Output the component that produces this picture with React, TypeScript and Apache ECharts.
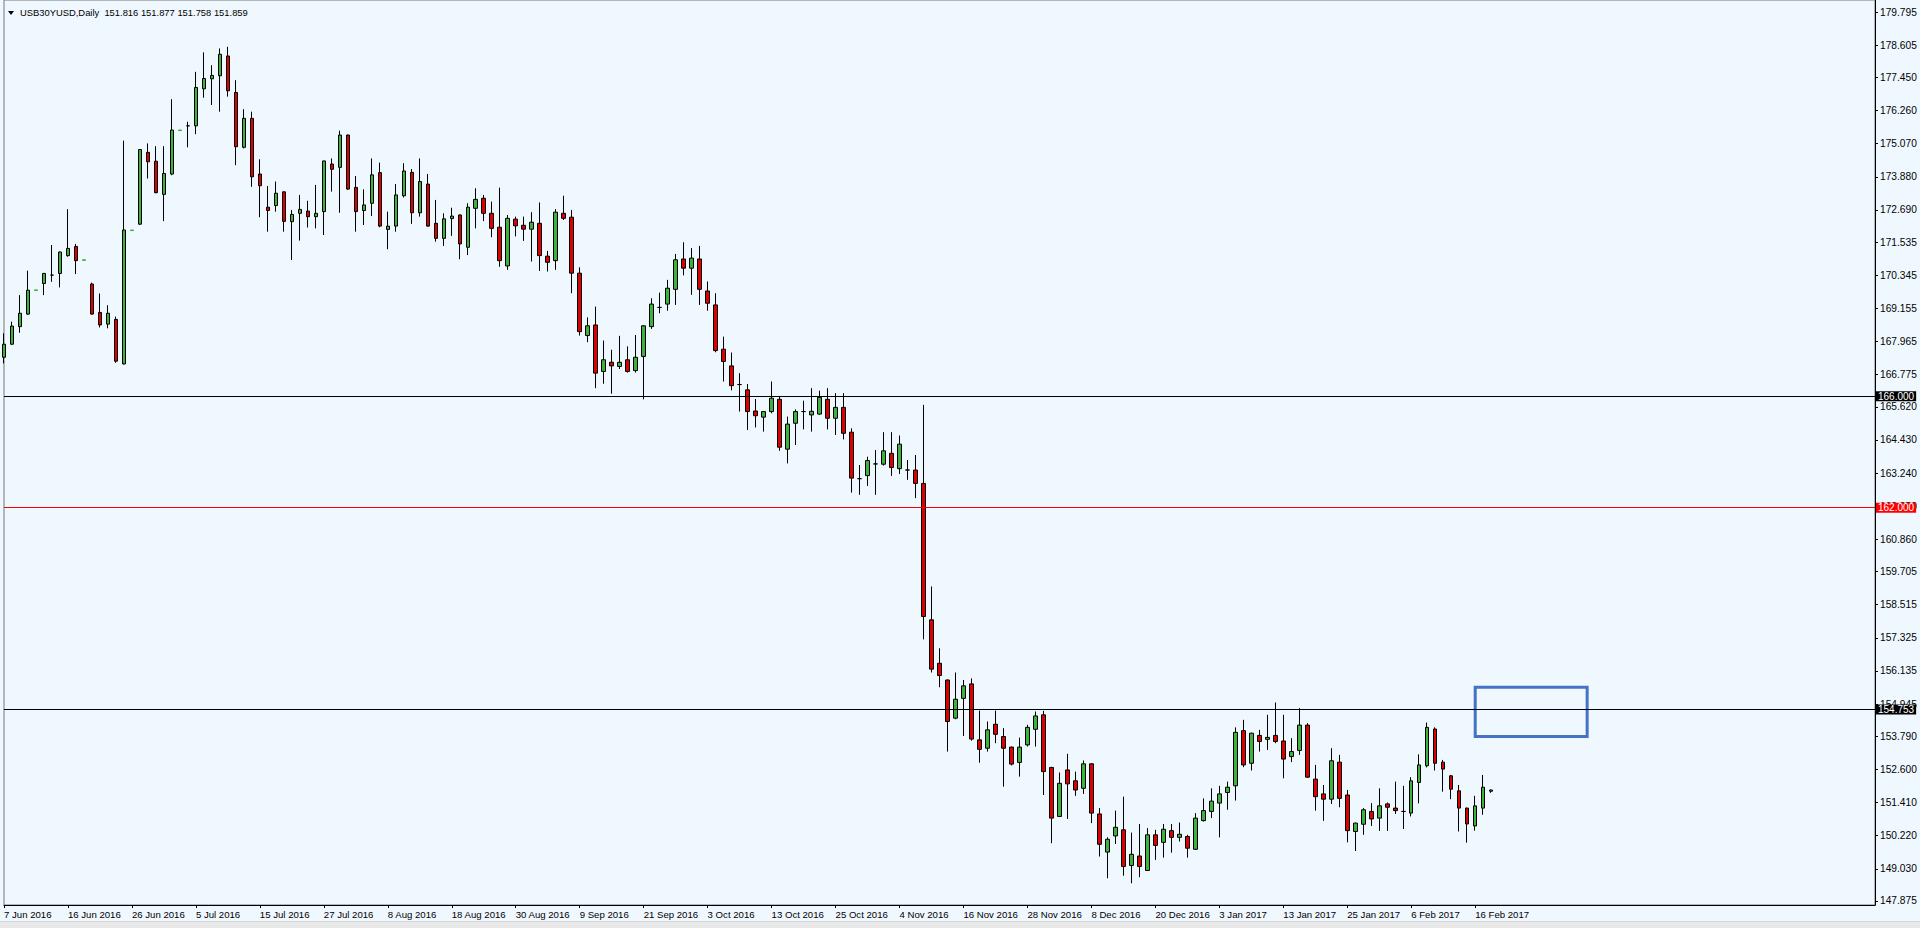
import { useEffect, useRef } from "react";
import * as echarts from "echarts";

const symbolName = "USB30YUSD";
const timeframe = "Daily";

const opens = [
  167.40,167.87,168.50,168.95,169.80,170.05,170.35,170.41,171.05,171.38,
  170.88,170.03,169.01,168.59,168.76,167.16,171.95,172.18,174.76,174.44,
  173.25,173.98,175.54,175.71,175.71,177.04,177.40,177.51,178.22,176.91,
  174.94,175.98,173.98,172.79,172.85,173.34,172.27,172.57,172.65,172.45,
  172.63,174.34,174.22,175.38,173.50,172.67,172.93,174.03,171.99,172.11,
  173.20,174.04,172.59,173.62,172.21,171.67,172.38,172.51,171.35,172.75,
  173.11,172.57,172.07,170.68,172.36,172.14,172.00,172.21,171.03,170.87,
  172.57,172.43,170.42,168.18,168.56,166.89,167.22,167.07,167.31,166.92,
  167.43,168.50,169.19,169.31,169.84,170.93,170.60,170.93,169.78,169.28,
  167.69,167.09,166.42,166.23,165.47,165.25,165.45,165.89,164.10,165.03,
  165.45,165.33,165.36,165.89,165.21,165.60,164.71,163.04,163.15,163.57,
  163.56,163.95,163.40,163.35,163.35,162.87,157.97,156.41,155.81,154.44,
  155.15,155.67,153.66,153.36,154.22,153.78,153.40,152.85,153.48,154.04,
  154.56,152.67,150.91,152.58,152.19,151.92,152.80,151.00,149.63,150.21,
  150.43,149.15,149.49,148.97,150.25,149.98,150.40,150.16,150.19,149.73,
  150.76,151.09,151.39,151.77,152.01,153.99,152.82,153.82,153.68,153.82,
  153.62,153.06,153.28,154.19,152.25,151.72,151.53,152.86,151.68,150.37,
  150.63,151.09,150.85,151.36,151.21,151.09,151.03,152.13,152.73,154.05,
  152.86,152.37,151.83,151.21,150.57,151.21,151.816,
];

const highs = [
  168.26,168.68,169.63,170.51,169.83,170.43,171.43,171.20,172.72,171.47,
  170.91,170.08,169.69,169.27,168.86,175.18,171.98,174.87,175.08,174.98,
  174.98,176.67,175.57,175.86,177.65,178.35,177.89,178.49,178.55,177.35,
  176.31,176.22,174.51,173.55,173.71,173.36,172.69,173.23,173.02,173.59,
  174.46,174.54,175.54,175.40,173.91,173.43,174.54,174.39,172.63,173.62,
  174.37,174.16,174.54,173.98,173.05,172.57,172.77,172.53,172.93,173.47,
  173.23,172.99,173.49,172.51,172.45,172.45,172.61,172.96,171.22,172.72,
  173.20,172.69,170.63,168.83,169.22,168.00,167.67,168.17,167.79,168.20,
  168.55,169.52,169.72,170.18,171.11,171.53,171.32,171.40,170.12,169.70,
  168.14,167.57,166.83,166.44,165.90,165.47,166.53,165.99,165.27,165.53,
  165.84,166.29,166.20,166.29,166.11,166.11,164.85,163.53,163.83,164.07,
  164.71,164.71,164.59,163.71,163.89,165.69,159.17,156.95,155.83,156.08,
  155.81,155.87,154.71,154.32,154.71,154.08,153.42,153.74,154.20,154.68,
  154.70,152.69,152.49,153.16,152.52,152.92,152.82,151.21,150.16,151.12,
  151.62,150.33,150.64,150.49,150.43,150.64,150.64,150.69,150.25,151.03,
  151.56,151.92,152.01,152.16,154.11,154.38,153.92,154.02,154.56,155.00,
  154.56,153.72,154.80,154.26,152.76,152.04,153.36,153.12,151.86,150.69,
  151.21,151.39,151.92,151.41,152.16,152.01,152.32,153.14,154.28,154.11,
  152.94,152.40,152.04,151.23,151.65,152.40,151.877,
];

const lows = [
  167.18,167.84,168.28,168.92,169.79,169.63,170.11,169.91,171.01,170.39,
  170.87,168.93,168.47,168.44,167.20,167.14,171.94,172.15,173.82,173.29,
  172.29,173.94,175.53,174.94,175.41,176.72,176.46,176.22,176.76,174.30,
  174.90,173.52,172.43,171.91,172.63,171.91,170.89,171.59,172.06,172.03,
  171.79,173.35,172.59,173.41,171.91,172.15,172.47,172.07,171.28,171.91,
  173.14,172.19,172.45,172.09,171.55,171.40,171.76,170.92,171.07,172.03,
  172.29,171.71,170.65,170.54,171.74,171.58,170.84,170.50,170.48,170.54,
  172.33,169.70,168.18,167.94,166.29,166.45,166.09,166.98,166.85,166.85,
  165.89,168.42,168.98,169.07,169.28,170.34,169.64,169.28,169.07,167.58,
  166.53,166.21,165.45,164.79,164.88,164.73,165.39,164.04,163.59,164.25,
  164.81,164.73,165.33,164.81,164.61,164.45,162.54,162.46,162.78,162.46,
  163.51,163.14,163.21,163.00,162.34,157.27,156.08,155.55,153.24,154.40,
  153.80,153.63,152.84,153.24,153.54,151.98,152.74,152.34,153.42,153.42,
  151.68,149.95,150.89,150.82,151.65,151.72,150.67,149.47,148.69,149.92,
  148.78,148.51,148.73,148.95,149.35,149.43,149.61,150.01,149.43,149.71,
  150.73,150.85,150.16,151.15,151.48,152.68,152.56,153.24,153.30,153.54,
  152.28,152.86,153.12,152.30,151.12,150.75,151.36,151.24,149.98,149.67,
  150.25,150.57,150.39,150.39,151.00,150.46,150.91,151.38,152.67,152.56,
  151.80,151.53,150.37,149.97,150.40,150.97,151.758,
];

const closes = [
  167.87,168.52,168.98,169.81,169.82,170.41,170.35,171.18,171.31,170.87,
  170.90,168.95,168.56,168.98,167.26,171.97,171.97,174.86,174.42,173.31,
  174.00,175.56,175.56,175.71,177.09,177.41,177.52,178.28,176.97,174.96,
  175.98,173.88,173.56,172.67,173.29,172.28,172.53,172.71,172.45,172.57,
  174.45,174.15,175.38,173.44,172.63,172.87,173.95,172.11,172.11,173.23,
  174.09,172.59,173.71,172.11,171.67,172.37,172.47,171.47,172.79,173.07,
  172.57,172.03,170.87,172.39,172.12,172.00,172.25,171.05,170.81,172.61,
  172.39,170.42,168.32,168.53,166.83,167.31,167.09,167.22,166.89,167.40,
  168.53,169.31,169.19,169.88,170.90,170.60,170.96,169.84,169.34,167.64,
  167.25,166.38,166.42,165.45,165.30,165.45,165.93,164.17,165.00,165.45,
  165.45,165.46,165.96,165.21,165.60,164.67,163.06,163.04,163.69,163.57,
  164.04,163.44,164.28,163.35,162.87,158.09,156.20,155.97,154.32,155.12,
  155.60,153.69,153.32,154.02,153.86,153.36,152.79,153.40,154.11,154.52,
  152.52,150.85,152.10,152.08,151.86,152.80,151.03,149.91,150.09,150.52,
  149.11,149.55,149.11,150.25,149.87,150.45,150.16,150.27,149.77,150.85,
  151.12,151.46,151.72,151.96,153.93,152.76,153.90,153.60,153.75,153.60,
  152.97,153.24,154.19,152.32,151.62,151.53,152.91,151.56,150.40,150.67,
  151.15,150.82,151.29,151.24,151.12,151.09,152.19,152.76,154.11,152.82,
  152.61,151.89,151.21,150.64,151.29,151.96,151.859,
];

// date labels, one every 8 bars starting at bar 0
const xLabels = [
  "7 Jun 2016", "16 Jun 2016", "26 Jun 2016", "5 Jul 2016", "15 Jul 2016",
  "27 Jul 2016", "8 Aug 2016", "18 Aug 2016", "30 Aug 2016", "9 Sep 2016",
  "21 Sep 2016", "3 Oct 2016", "13 Oct 2016", "25 Oct 2016", "4 Nov 2016",
  "16 Nov 2016", "28 Nov 2016", "8 Dec 2016", "20 Dec 2016", "3 Jan 2017",
  "13 Jan 2017", "25 Jan 2017", "6 Feb 2017", "16 Feb 2017",
];
const xLabelStep = 8;
const totalSlots = 235;

const yTicks = [
  179.795, 178.605, 177.45, 176.26, 175.07, 173.88, 172.69, 171.535, 170.345,
  169.155, 167.965, 166.775, 165.62, 164.43, 163.24, 162.05, 160.86, 159.705,
  158.515, 157.325, 156.135, 154.945, 153.79, 152.6, 151.41, 150.22, 149.03,
  147.875,
];
const yMin = 147.73;
const yMax = 180.23;

const levelValues = [166.0, 162.0, 154.753];
const boxBars = [184, 198];
const boxPrices = [155.55, 153.78];

const FONT = "'Liberation Sans', Arial, sans-serif";
const BULL = "#3CB43C";
const BEAR = "#DD0000";

export default function App() {
  const ref = useRef<HTMLDivElement>(null);

  useEffect(() => {
    if (!ref.current) return;
    const chart = echarts.init(ref.current, undefined, { renderer: "svg" });

    const categories = Array.from({ length: totalSlots }, (_, i) => String(i));
    const data = opens.map((o, i) => {
      const item: any = { value: [o, closes[i], lows[i], highs[i]] };
      if (highs[i] - lows[i] < 0.06 && closes[i] > o) {
        item.itemStyle = { borderColor: BULL, borderColorDoji: BULL };
      }
      return item;
    });
    const last = opens.length - 1;
    const titleText = `${symbolName},${timeframe}  ${opens[last].toFixed(3)} ${highs[last].toFixed(3)} ${lows[last].toFixed(3)} ${closes[last].toFixed(3)}`;

    const levelColor = (v: number) => (v === 162 ? "#FF0000" : "#000000");
    const markLineData: any[] = levelValues.map((v) => ({
      yAxis: v,
      lineStyle: { color: levelColor(v), width: 1, type: "solid" },
      label: { backgroundColor: levelColor(v) },
    }));
    markLineData.push({
      yAxis: closes[last],
      lineStyle: { opacity: 0 },
      label: { backgroundColor: "#000000" },
    });

    const labelInterval = (index: number) => index % xLabelStep === 0 && index / xLabelStep < xLabels.length;

    const option: any = {
      animation: false,
      backgroundColor: "#F0F8FF",
      textStyle: { fontFamily: FONT },
      title: {
        text: titleText,
        left: 20,
        top: 8,
        padding: 0,
        textStyle: { fontSize: 9.4, fontWeight: "normal", color: "#000", fontFamily: FONT },
      },
      graphic: [
        { type: "polygon", shape: { points: [[8, 11], [14, 11], [11, 15]] }, style: { fill: "#000" }, silent: true },
        { type: "rect", shape: { x: 0, y: 921, width: 1920, height: 7 }, style: { fill: "#E8E8E8" }, silent: true },
        { type: "line", shape: { x1: 0, y1: 921.5, x2: 1920, y2: 921.5 }, style: { stroke: "#D6D6D6", lineWidth: 1 }, silent: true },
      ],
      grid: {
        left: 4,
        right: 45,
        top: 0,
        bottom: 23,
        show: true,
        borderColor: "#777",
        borderWidth: 1,
        backgroundColor: "transparent",
      },
      xAxis: {
        type: "category",
        data: categories,
        boundaryGap: false,
        axisLine: { show: true, onZero: false, lineStyle: { color: "#000", width: 1 } },
        axisTick: { show: true, interval: labelInterval, length: 3, lineStyle: { color: "#000" } },
        axisLabel: {
          interval: labelInterval,
          formatter: (_v: string, index: number) => xLabels[index / xLabelStep] ?? "",
          align: "left",
          fontSize: 9.6,
          color: "#000",
          margin: 4,
          fontFamily: FONT,
        },
        splitLine: { show: false },
      },
      yAxis: {
        type: "value",
        position: "right",
        min: yMin,
        max: yMax,
        axisLine: { show: true, lineStyle: { color: "#000", width: 1 } },
        axisTick: { show: true, customValues: yTicks, length: 3, lineStyle: { color: "#000" } },
        axisLabel: {
          customValues: yTicks,
          formatter: (v: number) => v.toFixed(3),
          fontSize: 10.2,
          color: "#000",
          margin: 5,
          fontFamily: FONT,
        },
        splitLine: { show: false },
      },
      series: [
        {
          type: "candlestick",
          data,
          barWidth: 4,
          itemStyle: {
            color: BULL,
            color0: BEAR,
            borderColor: "#000",
            borderColor0: "#000",
            borderColorDoji: "#000",
            borderWidth: 1,
          },
          markLine: {
            silent: true,
            symbol: ["none", "none"],
            precision: 3,
            label: {
              show: true,
              position: "end",
              distance: 1,
              formatter: (p: any) => Number(p.value).toFixed(3),
              color: "#fff",
              fontSize: 10,
              fontFamily: FONT,
              padding: [0, 2, 0, 2],
            },
            data: markLineData,
          },
          markArea: {
            silent: true,
            itemStyle: { color: "rgba(0,0,0,0)", borderColor: "#4472C4", borderWidth: 3 },
            data: [[
              { xAxis: boxBars[0], yAxis: boxPrices[0] },
              { xAxis: boxBars[1], yAxis: boxPrices[1] },
            ]],
          },
        },
      ],
    };

    chart.setOption(option);
    return () => chart.dispose();
  }, []);

  return (
    <div
      ref={ref}
      style={{ position: "fixed", left: 0, top: 0, width: 1920, height: 928 }}
    />
  );
}
